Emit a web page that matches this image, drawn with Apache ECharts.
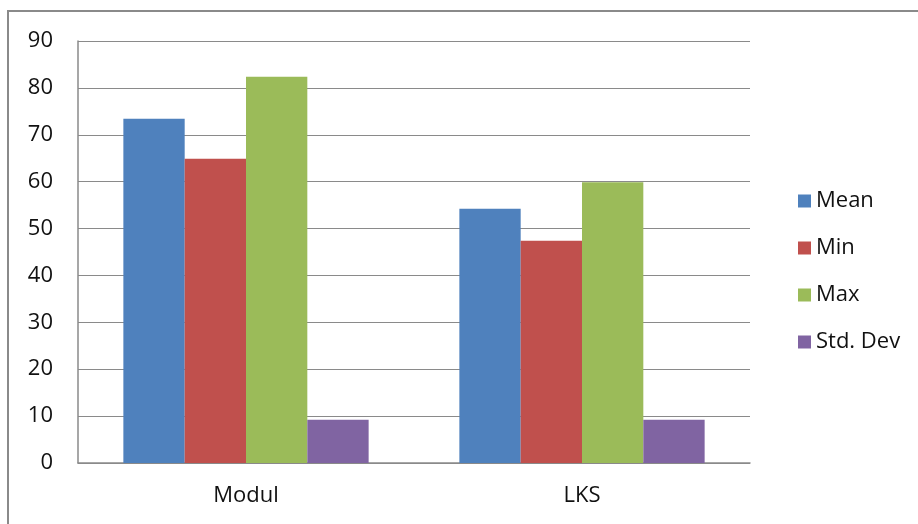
<!DOCTYPE html>
<html>
<head>
<meta charset="utf-8">
<script src="https://cdn.jsdelivr.net/npm/echarts@6/dist/echarts.min.js"></script>
<style>
  html, body { margin: 0; padding: 0; background: #fff; }
  #chart { width: 918px; height: 524px; }
</style>
</head>
<body>
<div id="chart"></div>
<script>
// Groups along the x axis
const categories = ['Modul', 'LKS'];

// Statistic series, one value per group
const seriesNames = ['Mean', 'Min', 'Max', 'Std. Dev'];
const meanValues = [73.4, 54.2];
const minValues = [64.9, 47.4];
const maxValues = [82.4, 59.9];
const stdDevValues = [9.2, 9.2];

// Value axis ticks
const yTicks = [0, 10, 20, 30, 40, 50, 60, 70, 80, 90];

const colors = ['#4F81BD', '#C0504D', '#9BBB59', '#8064A2'];
const seriesValues = [meanValues, minValues, maxValues, stdDevValues];
const fontFamily = '"Open Sans", "Liberation Sans", sans-serif';

const chart = echarts.init(document.getElementById('chart'), null, { renderer: 'canvas' });

chart.setOption({
  backgroundColor: '#ffffff',
  animation: false,
  color: colors,
  grid: { left: 78, right: 168, top: 41, bottom: 61, containLabel: false },
  legend: {
    orient: 'vertical',
    left: 793,
    top: 185,
    itemWidth: 13,
    itemHeight: 13,
    itemGap: 25,
    icon: 'rect',
    textStyle: { fontFamily: fontFamily, fontSize: 22, color: '#111111', padding: [0, 0, 0, 0] },
    data: seriesNames
  },
  xAxis: {
    type: 'category',
    data: categories,
    axisLine: { show: true, lineStyle: { color: '#8a8a8a', width: 1.5 } },
    axisTick: { show: false },
    axisLabel: { fontFamily: fontFamily, fontSize: 22, color: '#111111', margin: 22 },
    splitLine: { show: false }
  },
  yAxis: {
    type: 'value',
    min: yTicks[0],
    max: yTicks[yTicks.length - 1],
    interval: yTicks[1] - yTicks[0],
    axisLine: { show: true, lineStyle: { color: '#8a8a8a', width: 1.5 } },
    axisTick: { show: false },
    axisLabel: { fontFamily: fontFamily, fontSize: 22, color: '#111111', margin: 25 },
    splitLine: { show: true, lineStyle: { color: '#8a8a8a', width: 1.2 } }
  },
  series: seriesNames.map((name, i) => ({
    name: name,
    type: 'bar',
    data: seriesValues[i],
    barGap: '0%',
    barCategoryGap: '27%',
    itemStyle: { color: colors[i] }
  })),
  graphic: [
    {
      type: 'polyline',
      shape: { points: [[8, 524], [8, 11], [918, 11]] },
      style: { stroke: '#8a8a8a', lineWidth: 2, fill: null },
      silent: true
    }
  ]
});
</script>
</body>
</html>
